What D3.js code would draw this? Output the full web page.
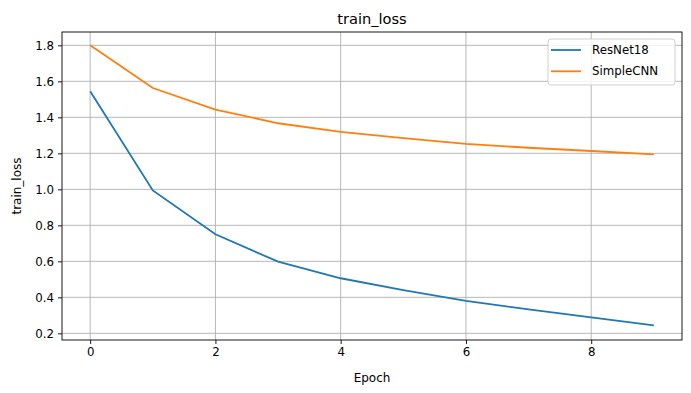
<!DOCTYPE html>
<html>
<head>
<meta charset="utf-8">
<script src="https://cdn.jsdelivr.net/npm/d3@7"></script>
<style>
  body { margin: 0; background: #fff; }
  text { font-family: "DejaVu Sans", sans-serif; fill: #000; }
</style>
</head>
<body>
<script>
// data
var epochs = [0, 1, 2, 3, 4, 5, 6, 7, 8, 9];
var resnet18 = [1.545, 0.994, 0.750, 0.598, 0.506, 0.440, 0.380, 0.333, 0.289, 0.244];
var simpleCNN = [1.800, 1.563, 1.443, 1.367, 1.319, 1.285, 1.252, 1.231, 1.213, 1.194];
var xTicks = [0, 2, 4, 6, 8];
var yTicks = [0.2, 0.4, 0.6, 0.8, 1.0, 1.2, 1.4, 1.6, 1.8];
var seriesNames = ['ResNet18', 'SimpleCNN'];
var seriesColors = ['#1f77b4', '#ff7f0e'];

var width = 691, height = 393;
var margin = {top: 32, right: 9, bottom: 53, left: 62};
var iw = width - margin.left - margin.right,
    ih = height - margin.top - margin.bottom;

var svg = d3.select('body').append('svg')
    .attr('width', width).attr('height', height);

var x = d3.scaleLinear().domain([-0.45, 9.45]).range([0, iw]);
var y = d3.scaleLinear().domain([0.163, 1.874]).range([ih, 0]);

var g = svg.append('g')
    .attr('transform', 'translate(' + margin.left + ',' + margin.top + ')');

// grid
g.selectAll('.gx').data(xTicks).enter().append('line')
    .attr('x1', d => x(d)).attr('x2', d => x(d))
    .attr('y1', 0).attr('y2', ih)
    .attr('stroke', '#b0b0b0').attr('stroke-width', 0.9);
g.selectAll('.gy').data(yTicks).enter().append('line')
    .attr('x1', 0).attr('x2', iw)
    .attr('y1', d => y(d)).attr('y2', d => y(d))
    .attr('stroke', '#b0b0b0').attr('stroke-width', 0.9);

// axes
var xAxis = d3.axisBottom(x).tickValues(xTicks).tickSize(4).tickPadding(4)
    .tickFormat(d3.format('d'));
var yAxis = d3.axisLeft(y).tickValues(yTicks).tickSize(4).tickPadding(4)
    .tickFormat(d3.format('.1f'));

var gx = g.append('g').attr('transform', 'translate(0,' + ih + ')').call(xAxis);
var gy = g.append('g').call(yAxis);
[gx, gy].forEach(function(a) {
    a.select('.domain').remove();
    a.selectAll('line').attr('stroke', '#000').attr('stroke-width', 0.9);
    a.selectAll('text').style('font-size', '11.8px').style('font-family', 'DejaVu Sans');
});

// lines
var line = d3.line().x((d, i) => x(epochs[i])).y(d => y(d));
[resnet18, simpleCNN].forEach(function(s, i) {
    g.append('path').datum(s)
        .attr('d', line)
        .attr('fill', 'none')
        .attr('stroke', seriesColors[i])
        .attr('stroke-width', 1.8);
});

// frame
g.append('rect').attr('width', iw).attr('height', ih)
    .attr('fill', 'none').attr('stroke', '#000').attr('stroke-width', 0.9);

// titles
svg.append('text').attr('x', margin.left + iw / 2).attr('y', 24)
    .attr('text-anchor', 'middle').style('font-size', '14.6px').text('train_loss');
svg.append('text').attr('x', margin.left + iw / 2).attr('y', 382)
    .attr('text-anchor', 'middle').style('font-size', '12px').text('Epoch');
svg.append('text')
    .attr('transform', 'translate(21,' + (margin.top + ih / 2) + ') rotate(-90)')
    .attr('text-anchor', 'middle').style('font-size', '12px').text('train_loss');

// legend
var lg = svg.append('g').attr('transform', 'translate(548,39)');
lg.append('rect').attr('width', 127).attr('height', 46).attr('rx', 3)
    .attr('fill', '#fff').attr('fill-opacity', 0.8)
    .attr('stroke', '#cccccc').attr('stroke-width', 0.9);
seriesNames.forEach(function(n, i) {
    var yy = 11 + i * 21.3;
    lg.append('line').attr('x1', 3).attr('x2', 33).attr('y1', yy).attr('y2', yy)
        .attr('stroke', seriesColors[i]).attr('stroke-width', 1.8);
    lg.append('text').attr('x', 44).attr('y', yy + 4).style('font-size', '11.8px').text(n);
});
</script>
</body>
</html>
